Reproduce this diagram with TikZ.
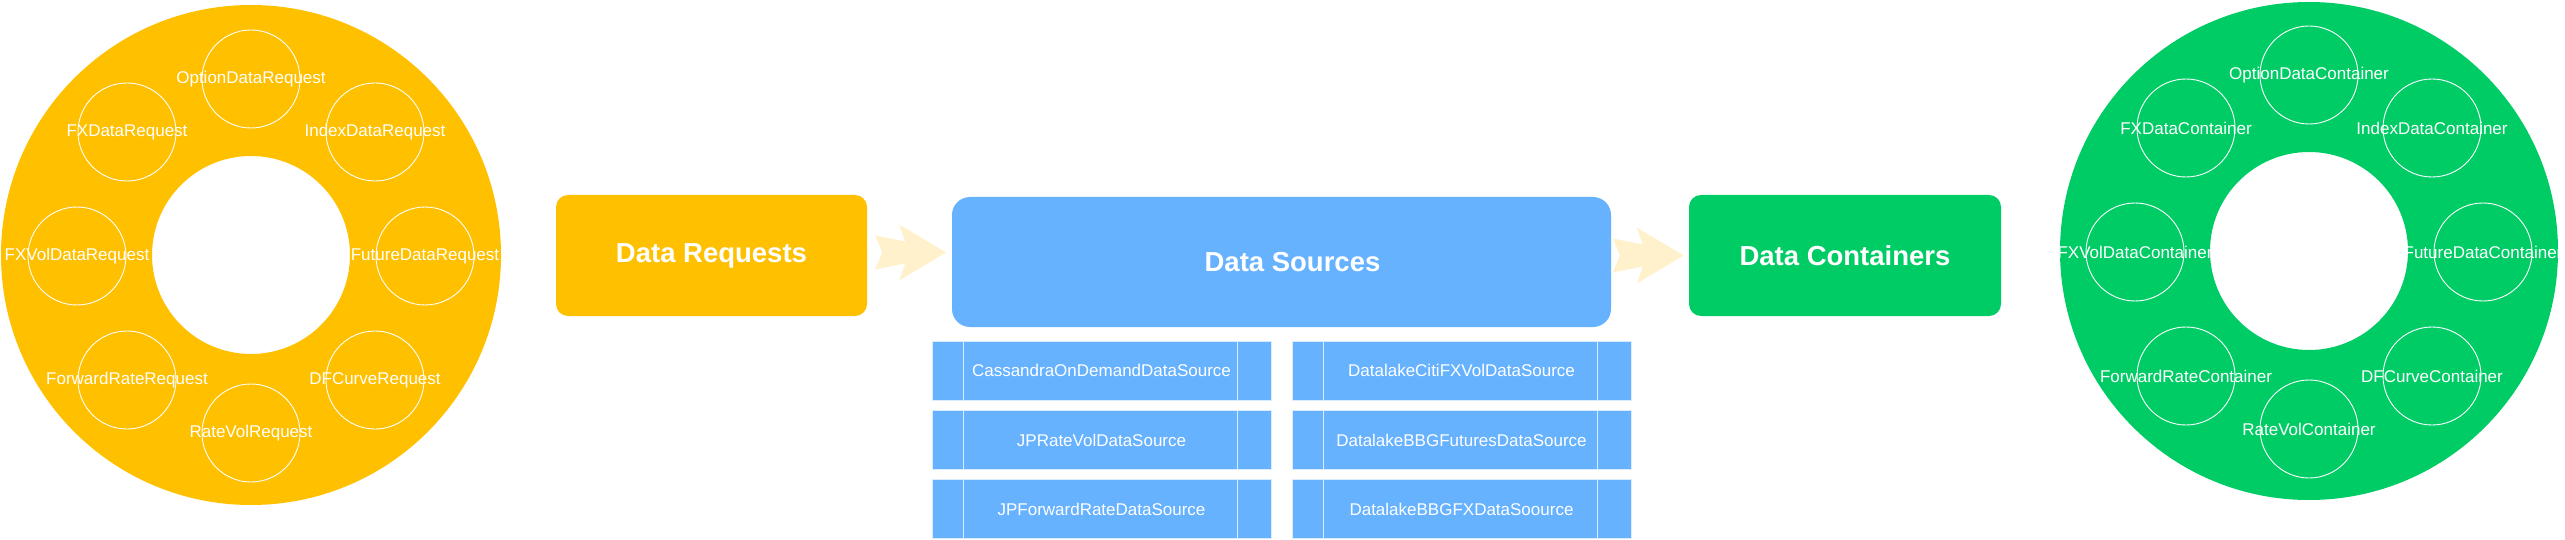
\documentclass[tikz,border=0pt]{standalone}
\usepackage{fontspec}
\setmainfont{Liberation Sans}
\usetikzlibrary{calc}
\definecolor{cyellow}{HTML}{FFC000}
\definecolor{cblue}{HTML}{66B2FF}
\definecolor{cgreen}{HTML}{00CC66}
\definecolor{carrow}{HTML}{FFF1CC}
\definecolor{cline}{HTML}{D9EBFF}
\begin{document}
\begin{tikzpicture}[x=1pt,y=-1pt,
  orb/.style={circle, draw=white, line width=0.9pt, minimum size=98pt, inner sep=0pt},
  lbl/.style={text=white, font=\fontsize{17}{20}\selectfont, inner sep=0pt},
  headtext/.style={text=white, font=\fontsize{27.5}{31}\selectfont\bfseries, inner sep=0pt},
  head/.style={rectangle, rounded corners=12pt, inner sep=0pt, headtext},
  src/.style={rectangle, fill=cblue, draw=cline, line width=1pt, minimum width=339pt, minimum height=59pt, inner sep=0pt, text=white, font=\fontsize{17}{20}\selectfont},
  sideline/.style={draw=cline, line width=1pt},
  arr/.style={fill=carrow}]
\useasboundingbox (0,0) rectangle (2565,540);

% ---- left donut ----
\fill[cyellow, even odd rule] (251,255) circle[radius=250pt] (251,255) circle[radius=99pt];
\node[orb, label={[lbl]center:OptionDataRequest}] (q1) at (251,79) {};
\node[orb, label={[lbl]center:IndexDataRequest}] (q2) at (375,132) {};
\node[orb, label={[lbl]center:FutureDataRequest}] (q3) at (425,256) {};
\node[orb, label={[lbl]center:DFCurveRequest}] (q4) at (375,380) {};
\node[orb, label={[lbl]center:RateVolRequest}] (q5) at (251,433) {};
\node[orb, label={[lbl]center:ForwardRateRequest}] (q6) at (127,380) {};
\node[orb, label={[lbl]center:FXVolDataRequest}] (q7) at (77,256) {};
\node[orb, label={[lbl]center:FXDataRequest}] (q8) at (127,132) {};

% ---- right donut ----
\fill[cgreen, even odd rule] (2309,251) circle[radius=249pt] (2309,251) circle[radius=99pt];
\node[orb, label={[lbl]center:OptionDataContainer}] (c1) at (2309,75) {};
\node[orb, label={[lbl]center:IndexDataContainer}] (c2) at (2432,128) {};
\node[orb, label={[lbl]center:FutureDataContainer}] (c3) at (2483,252) {};
\node[orb, label={[lbl]center:DFCurveContainer}] (c4) at (2432,376) {};
\node[orb, label={[lbl]center:RateVolContainer}] (c5) at (2309,429) {};
\node[orb, label={[lbl]center:ForwardRateContainer}] (c6) at (2186,376) {};
\node[orb, label={[lbl]center:FXVolDataContainer}] (c7) at (2135,252) {};
\node[orb, label={[lbl]center:FXDataContainer}] (c8) at (2186,128) {};

% ---- main boxes ----
\node[head, fill=cyellow, minimum width=311pt, minimum height=121pt] (dr) at (711.5,255.5) {Data Requests};
\node[head, fill=cblue, rounded corners=18pt, minimum width=659pt, minimum height=130pt,
      label={[headtext, xshift=11pt]center:Data Sources}] (ds) at (1281.5,262) {};
\node[head, fill=cgreen, minimum width=312pt, minimum height=121pt] (dc) at (1845,255.5) {Data Containers};

% ---- arrows ----
\coordinate (a1) at ($(dr.east)+(8,-3)$);
\coordinate (a2) at ($(dc.west)+(-76,0)$);
\foreach \a in {a1,a2}{
  \fill[arr, shift={(\a)}] (0,-17) -- (30,-11) -- (24,-28) -- (71,0) -- (24,28) -- (30,11) -- (0,17) -- (7,0) -- cycle;
}

% ---- data source boxes ----
\node[src] (s1) at (1101.5,370.5) {CassandraOnDemandDataSource};
\node[src] (s2) at (1101.5,440) {JPRateVolDataSource};
\node[src] (s3) at (1101.5,509) {JPForwardRateDataSource};
\node[src] (s4) at (1461.5,370.5) {DatalakeCitiFXVolDataSource};
\node[src] (s5) at (1461.5,440) {DatalakeBBGFuturesDataSource};
\node[src] (s6) at (1461.5,509) {DatalakeBBGFXDataSoource};
\foreach \n in {s1,s2,s3,s4,s5,s6}{
  \draw[sideline] ([xshift=32pt]\n.north west) -- ([xshift=32pt]\n.south west);
  \draw[sideline] ([xshift=-34pt]\n.north east) -- ([xshift=-34pt]\n.south east);
}
\end{tikzpicture}
\end{document}
